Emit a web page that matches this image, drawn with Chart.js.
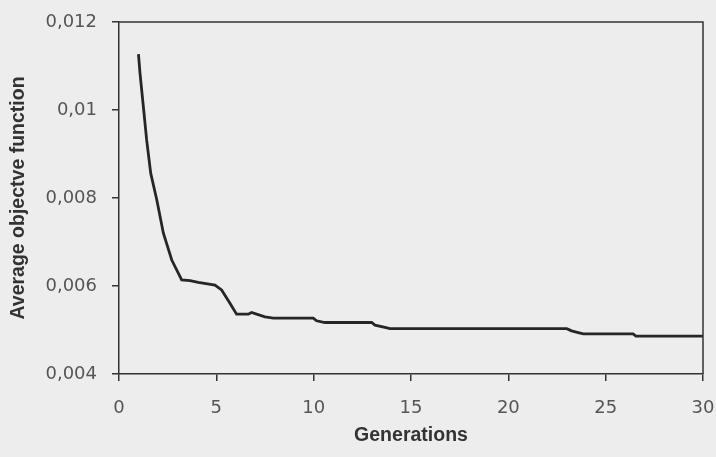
<!DOCTYPE html>
<html>
<head>
<meta charset="utf-8">
<script src="https://cdn.jsdelivr.net/npm/chart.js@4"></script>
<style>
  html, body { margin: 0; padding: 0; background: #ededed; }
  #wrap { width: 716px; height: 457px; }
</style>
</head>
<body>
<div id="wrap"><canvas id="myChart" width="716" height="457"></canvas></div>
<script>
// values
const generations = [1, 1.08, 1.25, 1.42, 1.63, 1.94, 2.28, 2.71, 3.22, 3.65, 4.07, 4.93, 5.27, 5.7,
  6.04, 6.64, 6.81, 7.07, 7.5, 7.93, 9.98, 10.15, 10.58, 12.98, 13.15, 13.66, 13.92,
  23.0, 23.25, 23.59, 23.85, 26.41, 26.55, 30];
const avgObjective = [0.01127, 0.01083, 0.01008, 0.00932, 0.00856, 0.00796, 0.0072, 0.00659, 0.00614,
  0.00612, 0.00608, 0.00602, 0.00591, 0.00561, 0.00536, 0.00536, 0.0054, 0.00536, 0.0053, 0.00527,
  0.00527, 0.00521, 0.00517, 0.00517, 0.00511, 0.00506, 0.00503, 0.00503, 0.00498, 0.00494, 0.00491,
  0.00491, 0.00486, 0.00486];
const xTicks = [0, 5, 10, 15, 20, 25, 30];
const yTicks = [0.004, 0.006, 0.008, 0.010, 0.012];
const yTickLabels = ['0,004', '0,006', '0,008', '0,01', '0,012'];

const points = generations.map((g, i) => ({ x: g, y: avgObjective[i] }));

// top + right border of the plot box
const frame = {
  id: 'frame',
  afterDraw(chart) {
    const { ctx, chartArea: a } = chart;
    ctx.save();
    ctx.strokeStyle = '#333';
    ctx.lineWidth = 1.5;
    ctx.beginPath();
    ctx.moveTo(a.left, a.top);
    ctx.lineTo(a.right, a.top);
    ctx.lineTo(a.right, a.bottom);
    ctx.stroke();
    ctx.restore();
  }
};

const tickFont = { family: 'DejaVu Sans', size: 18 };
const titleFont = { family: 'Liberation Sans', size: 19.5, weight: 'bold' };

const myChart = new Chart(document.getElementById('myChart').getContext('2d'), {
  type: 'line',
  data: {
    datasets: [{
      label: 'Average objective function',
      data: points,
      borderColor: '#262626',
      borderWidth: 2.8,
      pointRadius: 0,
      tension: 0,
      fill: false
    }]
  },
  options: {
    responsive: false,
    animation: false,
    layout: { padding: { top: 22, right: 13, left: 0, bottom: 0 } },
    plugins: { legend: { display: false }, tooltip: { enabled: false } },
    scales: {
      x: {
        type: 'linear',
        min: 0, max: 30,
        afterBuildTicks: s => { s.ticks = xTicks.map(v => ({ value: v })); },
        afterFit: s => { s.height = 83; s.paddingLeft = 0; s.paddingRight = 0; },
        ticks: { color: '#555', font: tickFont, padding: 17, maxRotation: 0 },
        grid: { drawOnChartArea: false, drawTicks: true, tickLength: 7, color: '#333', lineWidth: 1.5 },
        border: { color: '#333', width: 1.5 },
        title: { display: true, text: 'Generations', color: '#333', font: titleFont, padding: { top: 0, bottom: 10 } }
      },
      y: {
        min: 0.004, max: 0.012,
        afterBuildTicks: s => { s.ticks = yTicks.map(v => ({ value: v })); },
        afterFit: s => { s.width = 119; s.paddingTop = 0; s.paddingBottom = 0; },
        ticks: {
          color: '#555', font: tickFont, padding: 15,
          callback: (v) => yTickLabels[yTicks.findIndex(t => Math.abs(t - v) < 1e-9)]
        },
        grid: { drawOnChartArea: false, drawTicks: true, tickLength: 7, color: '#333', lineWidth: 1.5 },
        border: { color: '#333', width: 1.5 },
        title: { display: true, text: 'Average objectve function', color: '#333', font: titleFont, padding: { top: 7, bottom: 0 } }
      }
    }
  },
  plugins: [frame]
});
</script>
</body>
</html>
